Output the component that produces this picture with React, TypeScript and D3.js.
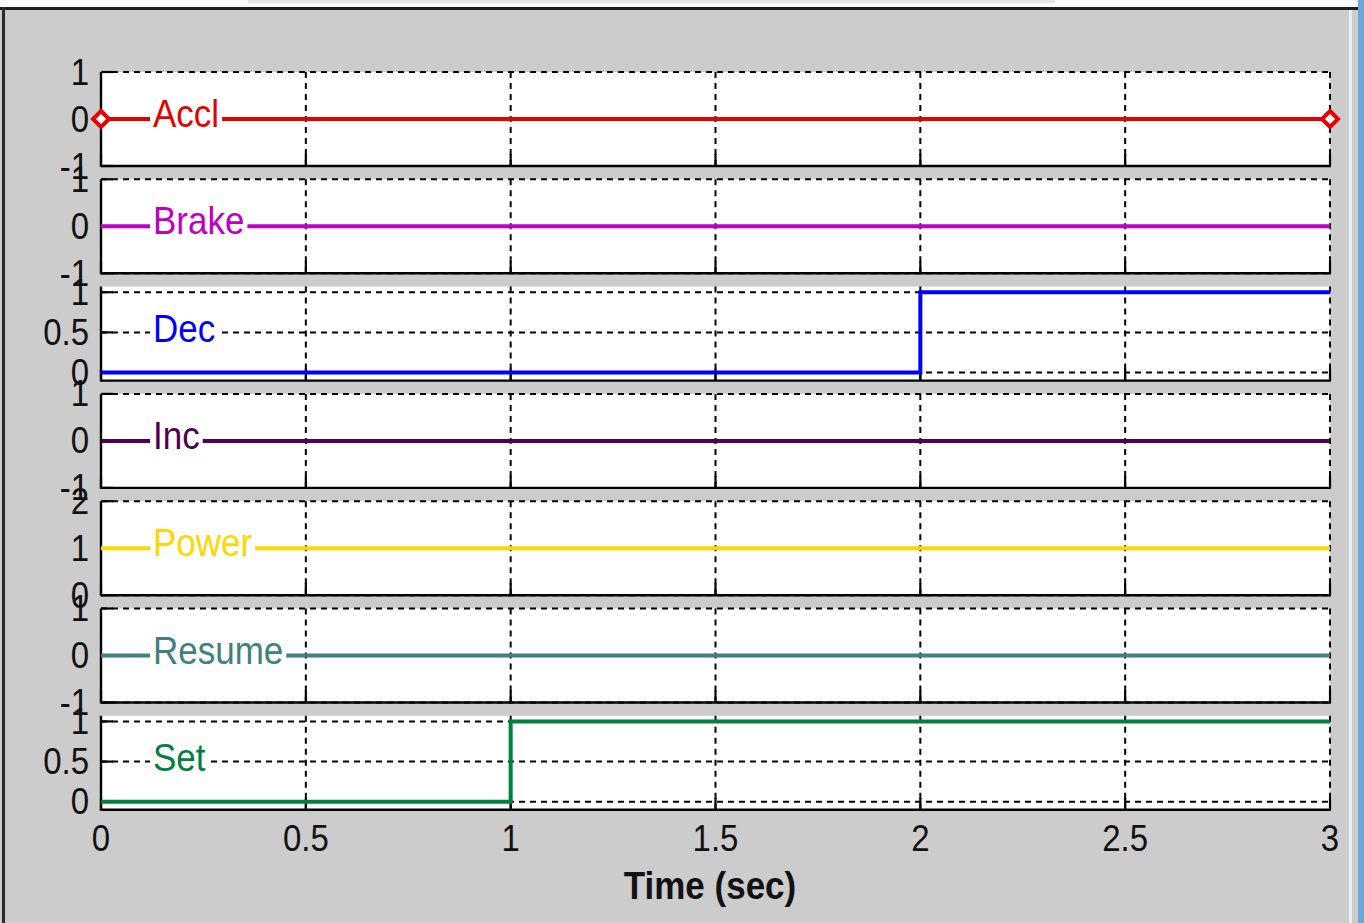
import React from 'react';
import * as d3 from 'd3';

// signal names and colours, top to bottom
const signalNames = ['Accl', 'Brake', 'Dec', 'Inc', 'Power', 'Resume', 'Set'];
const signalColors = ['#e60000', '#c000c0', '#0000ff', '#500050', '#ffd700', '#3f8080', '#008040'];

// step signals: time points and values
const acclTimes = [0, 3];
const acclValues = [0, 0];
const brakeTimes = [0, 3];
const brakeValues = [0, 0];
const decTimes = [0, 2, 2, 3];
const decValues = [0, 0, 1, 1];
const incTimes = [0, 3];
const incValues = [0, 0];
const powerTimes = [0, 3];
const powerValues = [1, 1];
const resumeTimes = [0, 3];
const resumeValues = [0, 0];
const setTimes = [0, 1, 1, 3];
const setValues = [0, 0, 1, 1];

const signalTimes = [acclTimes, brakeTimes, decTimes, incTimes, powerTimes, resumeTimes, setTimes];
const signalValues = [acclValues, brakeValues, decValues, incValues, powerValues, resumeValues, setValues];

// y axis per panel
const yDomains: [number, number][] = [[-1, 1], [-1, 1], [-0.1, 1.07], [-1, 1], [0, 2], [-1, 1], [-0.1, 1.07]];
const yTicks = [[-1, 0, 1], [-1, 0, 1], [0, 0.5, 1], [-1, 0, 1], [0, 1, 2], [-1, 0, 1], [0, 0.5, 1]];

const xTicks = [0, 0.5, 1, 1.5, 2, 2.5, 3];
const xLabel = 'Time (sec)';

const W = 1364;
const H = 923;
const left = 101;
const right = 1330;
const firstTop = 72;
const step = 107.3;
const panelH = 94;
const font = '"Liberation Sans", Arial, sans-serif';
const stretch = 'scale(1,1.1)';

const x = d3.scaleLinear().domain([0, 3]).range([left, right]);

// rough Arial advance widths, used for the white box behind the labels
const charW: Record<string, number> = {A: .667, B: .667, D: .722, I: .278, P: .667, R: .722, S: .667, c: .5, l: .222, r: .333, a: .556, k: .5, e: .556, n: .556, o: .556, w: .722, s: .5, u: .556, m: .833, t: .278};

const App: React.FC = () => {
    const panels = signalNames.map((name, i) => {
        const top = firstTop + i * step;
        const bottom = top + panelH;
        const y = d3.scaleLinear().domain(yDomains[i]).range([bottom, top]);
        const pts = signalTimes[i].map((t, k) => [t, signalValues[i][k]] as [number, number]);
        const line = d3.line<[number, number]>().x(d => x(d[0])).y(d => y(d[1]));
        const labelY = top + panelH / 2 - 5;
        const textW = name.split('').reduce((s, ch) => s + (charW[ch] || .556), 0) * 35;
        return (
            <g key={name}>
                <rect x={left} y={top} width={right - left} height={panelH} fill="#fff" />
                {/* grid */}
                {xTicks.filter(t => t > 0).map(t => (
                    <line key={'gx' + t} x1={x(t)} x2={x(t)} y1={top} y2={bottom}
                          stroke="#000" strokeWidth={2} strokeDasharray="6,5" />
                ))}
                {yTicks[i].map(v => (
                    <line key={'gy' + v} x1={left} x2={right} y1={y(v)} y2={y(v)}
                          stroke="#000" strokeWidth={2} strokeDasharray="6,5" />
                ))}
                {/* ticks */}
                {xTicks.map(t => (
                    <line key={'tx' + t} x1={x(t)} x2={x(t)} y1={bottom} y2={bottom - 12}
                          stroke="#000" strokeWidth={2.2} />
                ))}
                {yTicks[i].map(v => (
                    <line key={'ty' + v} x1={left} x2={left + 12} y1={y(v)} y2={y(v)}
                          stroke="#000" strokeWidth={2.2} />
                ))}
                {/* axes */}
                <line x1={left} x2={left} y1={top} y2={bottom + 1} stroke="#000" strokeWidth={2.4} />
                <line x1={left} x2={right + 1} y1={bottom} y2={bottom} stroke="#000" strokeWidth={2.4} />
                {/* signal */}
                <path d={line(pts) || ''} fill="none" stroke={signalColors[i]} strokeWidth={4} />
                {i === 0 && signalTimes[0].map(t => (
                    <path key={'m' + t}
                          d={`M${x(t)},${y(0) - 8}L${x(t) + 8},${y(0)}L${x(t)},${y(0) + 8}L${x(t) - 8},${y(0)}Z`}
                          fill="#fff" stroke={signalColors[0]} strokeWidth={4} />
                ))}
                {/* label */}
                <rect x={150} y={labelY - 18} width={textW + 6} height={33} fill="#fff" />
                <text transform={`translate(153,${labelY}) ${stretch}`} dominantBaseline="central"
                      fontFamily={font} fontSize={35} fill={signalColors[i]}>{name}</text>
                {/* y tick labels */}
                {yTicks[i].map(v => (
                    <text key={'yl' + v} transform={`translate(89,${y(v)}) ${stretch}`} dominantBaseline="central"
                          textAnchor="end" fontFamily={font} fontSize={33} fill="#111">{v}</text>
                ))}
            </g>
        );
    });

    const lastBottom = firstTop + 6 * step + panelH;

    return (
        <svg width={W} height={H} style={{position: 'absolute', left: 0, top: 0}}>
            <rect x={0} y={0} width={W} height={H} fill="#cccccc" />
            {/* window frame */}
            <rect x={0} y={0} width={W} height={7} fill="#fafafa" />
            <rect x={248} y={0} width={807} height={3} fill="#e4e4e4" />
            <rect x={0} y={7} width={1358} height={3} fill="#1e1e1e" />
            <rect x={2} y={7} width={3} height={H} fill="#2a2a2a" />
            <rect x={1349} y={10} width={3} height={H} fill="#ececec" />
            <rect x={1358} y={0} width={6} height={H} fill="#6aa6d6" />
            {panels}
            {xTicks.map(t => (
                <text key={'xl' + t} transform={`translate(${x(t)},${lastBottom + 29}) ${stretch}`}
                      dominantBaseline="central" textAnchor="middle"
                      fontFamily={font} fontSize={33} fill="#111">{t}</text>
            ))}
            <text transform={`translate(710,${lastBottom + 76}) ${stretch}`} dominantBaseline="central"
                  textAnchor="middle" fontFamily={font} fontSize={35} fontWeight="bold" fill="#111">{xLabel}</text>
        </svg>
    );
};

export default App;
